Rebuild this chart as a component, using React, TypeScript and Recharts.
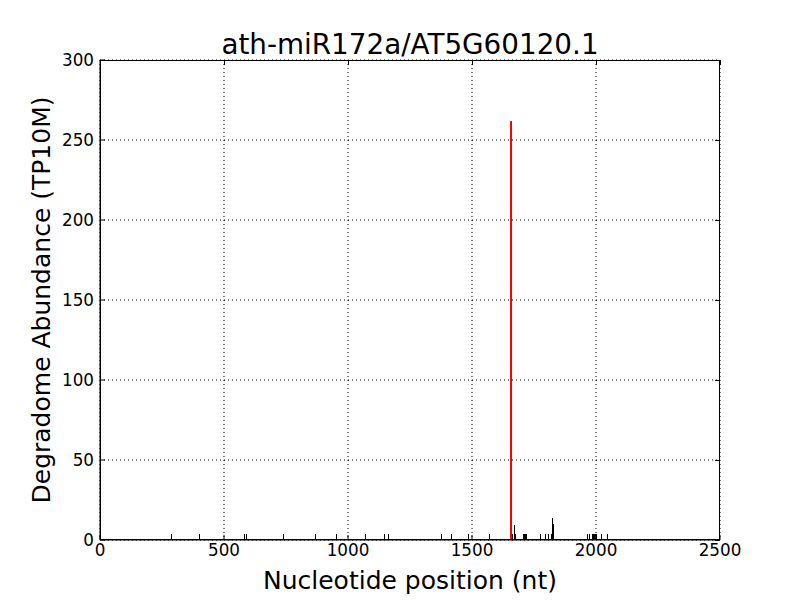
import React from "react";
import { ComposedChart, Bar, XAxis, YAxis, CartesianGrid } from "recharts";

// degradome reads per position (TP10M)
const POSITIONS = [
  290, 403, 581, 590, 742, 871, 952, 1070, 1147, 1163, 1379, 1418, 1485, 1570,
  1665, 1670, 1677, 1706, 1710, 1714, 1718, 1778, 1797, 1807, 1820, 1824, 1828,
  1964, 1972, 1988, 1992, 1996, 2000, 2004, 2024, 2048,
];
const ABUNDANCE = [
  3.9, 3.9, 3.9, 3.9, 3.9, 3.9, 3.9, 3.9, 3.9, 3.9, 3.9, 3.9, 3.9, 3.9,
  3.9, 9.4, 3.9, 3.9, 3.9, 3.9, 3.9, 3.9, 3.9, 3.9, 3.9, 13.6, 9.7,
  3.9, 3.9, 3.9, 3.9, 3.9, 3.9, 3.9, 3.9, 3.9,
];
const TARGET_POS = 1657;
const TARGET_VALUE = 262.1;

const X_TICKS = [0, 500, 1000, 1500, 2000, 2500];
const Y_TICKS = [0, 50, 100, 150, 200, 250, 300];
const X_MAX = 2500;
const Y_MAX = 300;

const TITLE = "ath-miR172a/AT5G60120.1";
const X_LABEL = "Nucleotide position (nt)";
const Y_LABEL = "Degradome Abundance (TP10M)";

const FONT = "'DejaVu Sans', sans-serif";

// plot box inside the 800x600 chart
const PLOT = { left: 100, top: 60, width: 620, height: 480 };

const data = [
  ...POSITIONS.map((p, i) => ({ pos: p, value: ABUNDANCE[i] })),
  { pos: TARGET_POS, value: TARGET_VALUE },
].sort((a, b) => a.pos - b.pos);

function Stem(props: any) {
  const { x, y, width, height, payload } = props;
  if (!height || height <= 0) return null;
  const hit = payload.pos === TARGET_POS;
  const cx = hit ? Math.round(x + width / 2) : Math.floor(x + width / 2) + 0.5;
  return (
    <line
      x1={cx}
      x2={cx}
      y1={y}
      y2={y + height}
      stroke={hit ? "#ff0000" : "#000000"}
      strokeWidth={hit ? 2 : 1}
      shapeRendering="crispEdges"
    />
  );
}

// box + inward ticks on the top and right edges (matplotlib style)
function Frame() {
  const { left, top, width, height } = PLOT;
  const right = left + width;
  const bottom = top + height;
  return (
    <svg width={800} height={600} style={{ position: "absolute", left: 0, top: 0, pointerEvents: "none" }}>
      <rect x={left + 0.5} y={top + 0.5} width={width - 1} height={height - 1} fill="none" stroke="#000" />
      {X_TICKS.map((t) => {
        const px = Math.round(left + (t / X_MAX) * width) + 0.5;
        return <line key={"x" + t} x1={px} x2={px} y1={top} y2={top + 5} stroke="#000" />;
      })}
      {Y_TICKS.map((t) => {
        const py = Math.round(bottom - (t / Y_MAX) * height) + 0.5;
        return <line key={"y" + t} x1={right - 5} x2={right} y1={py} y2={py} stroke="#000" />;
      })}
    </svg>
  );
}

const tickStyle = { fontSize: 16.8, fill: "#000", fontFamily: FONT };

export default function App() {
  return (
    <div style={{ position: "absolute", left: 0, top: 0, width: 800, height: 600, background: "#fff", fontFamily: FONT }}>
      <ComposedChart width={800} height={600} data={data} margin={{ top: 60, right: 80, bottom: 0, left: 0 }}>
        <CartesianGrid stroke="#000" strokeDasharray="1 3" />
        <XAxis
          dataKey="pos"
          type="number"
          domain={[0, X_MAX]}
          ticks={X_TICKS}
          allowDataOverflow
          height={60}
          tickSize={-5}
          tickMargin={9}
          tick={tickStyle}
          axisLine={{ stroke: "#000" }}
          tickLine={{ stroke: "#000" }}
        />
        <YAxis
          type="number"
          domain={[0, Y_MAX]}
          ticks={Y_TICKS}
          width={100}
          tickSize={-5}
          tickMargin={11}
          tick={tickStyle}
          axisLine={{ stroke: "#000" }}
          tickLine={{ stroke: "#000" }}
        />
        <Bar dataKey="value" barSize={2} shape={<Stem />} isAnimationActive={false} />
      </ComposedChart>
      <Frame />
      <div style={{ position: "absolute", left: 0, width: 820, top: 30, lineHeight: "30px", fontSize: 27.8, textAlign: "center", color: "#000" }}>
        {TITLE}
      </div>
      <div style={{ position: "absolute", left: 0, width: 820, top: 566, lineHeight: "30px", fontSize: 25, textAlign: "center", color: "#000" }}>
        {X_LABEL}
      </div>
      <div
        style={{
          position: "absolute",
          left: 42 - 250,
          top: 300 - 15,
          width: 500,
          lineHeight: "30px",
          fontSize: 25,
          textAlign: "center",
          color: "#000",
          transform: "rotate(-90deg)",
        }}
      >
        {Y_LABEL}
      </div>
    </div>
  );
}
